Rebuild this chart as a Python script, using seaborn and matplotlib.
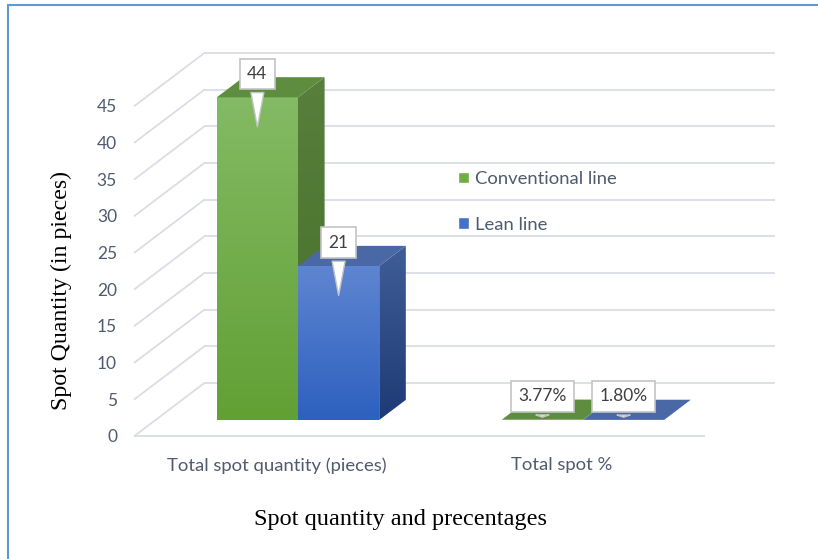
import numpy as np
import pandas as pd
import matplotlib
matplotlib.use("Agg")
import matplotlib.pyplot as plt
from matplotlib.patches import Polygon
from matplotlib.lines import Line2D
import seaborn as sns

# ---- data -------------------------------------------------------------
categories = ["Total spot quantity (pieces)", "Total spot %"]
series = ["Conventional line", "Lean line"]
conventional = [44, 0.0377]
lean = [21, 0.0180]
label_formats = ["{:.0f}", "{:.2%}"]
y_ticks = [0, 5, 10, 15, 20, 25, 30, 35, 40, 45]

df = pd.DataFrame({
    "category": categories * 2,
    "series": [series[0]] * len(categories) + [series[1]] * len(categories),
    "value": conventional + lean,
})

# ---- styling ----------------------------------------------------------
sns.set_theme(style="white")
plt.rcParams["font.family"] = ["Lato", "DejaVu Sans"]

TEXT = "#4f5b6e"
GRID = "#dadde4"
palette = {series[0]: "#70ad47", series[1]: "#4472c4"}
shades = {
    series[0]: dict(front=("#83ba64", "#62a034"), side=("#587f3b", "#44702a"), top="#5e8d40"),
    series[1]: dict(front=("#5e85d1", "#2d60bf"), side=("#3f5d96", "#1f3b77"), top="#4a68a6"),
}

# layout (pixels of an 818x559 canvas)
W, H = 818, 559
PX_CAT = 285.0            # pixels between category centres
PX_UNIT = 330.0 / 45.0    # pixels per value unit
CAT0_PX, ZERO_PX = 298.0, 420.0
AX_L, AX_R, AX_T, AX_B = 124, 800, 30, 450

# depth vector of the 3-D box (data units) and depth stations
DX, DY = 70.0 / PX_CAT, 53.0 / PX_UNIT
D_FRONT, D_BACK = -0.3, 0.7     # floor front edge / back wall, relative to bar faces
BAR_DEPTH = 0.38

fig = plt.figure(figsize=(W / 100, H / 100), dpi=100)
ax = fig.add_axes([AX_L / W, 1 - AX_B / H, (AX_R - AX_L) / W, (AX_B - AX_T) / H])

sns.barplot(data=df, x="category", y="value", hue="series", hue_order=series,
            order=categories, palette=palette, width=0.57, errorbar=None,
            saturation=1, ax=ax, zorder=2)

xlim = ((AX_L - CAT0_PX) / PX_CAT, (AX_R - CAT0_PX) / PX_CAT)
ylim = ((ZERO_PX - AX_B) / PX_UNIT, (ZERO_PX - AX_T) / PX_UNIT)


def gradient_fill(verts, top_color, bottom_color, z):
    verts = np.asarray(verts)
    poly = Polygon(verts, closed=True, transform=ax.transData)
    cmap = matplotlib.colors.LinearSegmentedColormap.from_list("g", [bottom_color, top_color])
    grad = np.linspace(0, 1, 64).reshape(-1, 1)
    x0, x1 = verts[:, 0].min(), verts[:, 0].max()
    y0, y1 = verts[:, 1].min(), verts[:, 1].max()
    if y1 - y0 < 1e-6:
        y1 = y0 + 1e-6
    im = ax.imshow(grad, cmap=cmap, extent=(x0, x1, y0, y1), origin="lower",
                   aspect="auto", interpolation="bilinear", zorder=z)
    im.set_clip_path(poly)


# ---- 3-D walls: back wall grid, left wall diagonals, floor edge ----------
n = len(categories)
xa, xb = -0.5, n - 0.5
for v in y_ticks:
    ax.plot([xa + D_BACK * DX, xb + D_BACK * DX], [v + D_BACK * DY] * 2,
            color=GRID, lw=1.3, zorder=0.5, solid_capstyle="butt")
    ax.plot([xa + D_FRONT * DX, xa + D_BACK * DX], [v + D_FRONT * DY, v + D_BACK * DY],
            color=GRID, lw=1.3, zorder=0.5)
ax.plot([xa + D_FRONT * DX, xb + D_FRONT * DX], [D_FRONT * DY] * 2,
        color=GRID, lw=1.3, zorder=0.5, solid_capstyle="butt")

# ---- bars: shaded front, side and top faces -----------------------------
bdx, bdy = BAR_DEPTH * DX, BAR_DEPTH * DY
for k, (name, container) in enumerate(zip(series, ax.containers)):
    z = 2 + k
    sh = shades[name]
    for bar in container.patches:
        bar.set_zorder(z)
        bar.set_edgecolor("none")
        x0 = bar.get_x()
        x1 = x0 + bar.get_width()
        v = bar.get_height()
        if v > 0.5:
            gradient_fill([(x0, 0), (x1, 0), (x1, v), (x0, v)], *sh["front"], z)
            gradient_fill([(x1, 0), (x1 + bdx, bdy), (x1 + bdx, v + bdy), (x1, v)],
                          *sh["side"], z)
        ax.add_patch(Polygon([(x0, v), (x1, v), (x1 + bdx, v + bdy), (x0 + bdx, v + bdy)],
                             closed=True, fc=sh["top"], ec="none", zorder=z))

# ---- value callouts -------------------------------------------------------
values = {series[0]: conventional, series[1]: lean}
for k, (name, container) in enumerate(zip(series, ax.containers)):
    for j, bar in enumerate(container.patches):
        v = values[name][j]
        xc = bar.get_x() + bar.get_width() / 2
        ax.annotate(label_formats[j].format(v), xy=(xc, max(v - 4.4, 0)),
                    xytext=(xc, v + 3.2), ha="center", va="center",
                    fontsize=12.5, color="#404040", zorder=10,
                    bbox=dict(boxstyle="square,pad=0.42", fc="white", ec="#c4c4c4", lw=1.2),
                    arrowprops=dict(arrowstyle="wedge,tail_width=0.75,shrink_factor=0.5",
                                    fc="white", ec="#c4c4c4", lw=1))

# ---- axes ------------------------------------------------------------------
ax.set_xlim(*xlim)
ax.set_ylim(*ylim)
# tick labels sit on the front edge of the 3-D floor / side wall
ax.set_xticks([i + D_FRONT * DX for i in range(n)], categories)
ax.set_yticks([t + D_FRONT * DY for t in y_ticks], [str(t) for t in y_ticks])
ax.tick_params(axis="both", length=0, colors=TEXT)
ax.tick_params(axis="y", pad=5, labelsize=12.5)
ax.tick_params(axis="x", pad=5, labelsize=13.3)
for s in ax.spines.values():
    s.set_visible(False)

ax.set_ylabel("Spot Quantity (in pieces)", family=["Liberation Serif"], fontsize=17.2, color="black")
ax.set_xlabel("Spot quantity and precentages", family=["Liberation Serif"], fontsize=17.5, color="black")
ax.yaxis.set_label_coords((72 - AX_L) / (AX_R - AX_L), (AX_B - 291) / (AX_B - AX_T))
ax.xaxis.set_label_coords((401 - AX_L) / (AX_R - AX_L), (AX_B - 509) / (AX_B - AX_T))

sns.move_legend(ax, "upper left", bbox_to_anchor=(458 / W, 1 - 171 / H),
                bbox_transform=fig.transFigure, title=None, frameon=False,
                fontsize=13.3, labelcolor=TEXT, handlelength=0.6, handleheight=0.6,
                handletextpad=0.3, labelspacing=1.6, borderpad=0, borderaxespad=0)

# chart frame
fig.add_artist(Line2D([8 / W, 8 / W], [0, 1 - 5 / H], transform=fig.transFigure,
                      color="#5b9bd5", lw=1.5))
fig.add_artist(Line2D([8 / W, 1], [1 - 5 / H, 1 - 5 / H], transform=fig.transFigure,
                      color="#5b9bd5", lw=1.5))

fig.savefig("out.png", dpi=100)
